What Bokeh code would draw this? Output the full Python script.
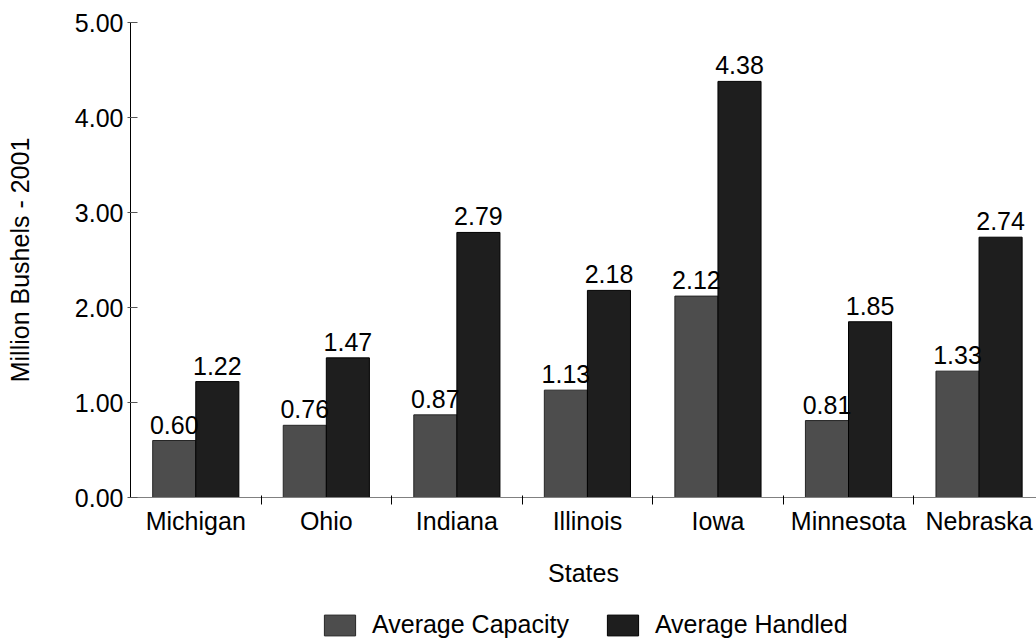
from bokeh.plotting import figure
from bokeh.layouts import column
from bokeh.models import (Range1d, FixedTicker, NumeralTickFormatter, ColumnDataSource,
                          Legend, LegendItem)
from bokeh.core.properties import value
from bokeh.embed import file_html
from bokeh.resources import INLINE

states = ["Michigan", "Ohio", "Indiana", "Illinois", "Iowa", "Minnesota", "Nebraska"]
avg_capacity = [0.60, 0.76, 0.87, 1.13, 2.12, 0.81, 1.33]
avg_handled = [1.22, 1.47, 2.79, 2.18, 4.38, 1.85, 2.74]
series_names = ["Average Capacity", "Average Handled"]
y_ticks = [0, 1, 2, 3, 4, 5]

FONT = "Liberation Sans"
FS = "25px"
COL_C = "#4d4d4d"
COL_H = "#1e1e1e"

centers = [i + 0.5 for i in range(len(states))]
off = 0.165
bw = 0.33

src_c = ColumnDataSource(dict(x=[c - off for c in centers], top=avg_capacity,
                              lab=[f"{v:.2f}" for v in avg_capacity]))
src_h = ColumnDataSource(dict(x=[c + off for c in centers], top=avg_handled,
                              lab=[f"{v:.2f}" for v in avg_handled]))

p = figure(frame_width=906, frame_height=475, output_backend="svg", toolbar_location=None,
           x_range=Range1d(0, 6.94), y_range=Range1d(0, 5),
           min_border_left=130, min_border_right=0, min_border_top=22, min_border_bottom=103)
p.outline_line_color = None
p.xgrid.visible = False
p.ygrid.visible = False
p.background_fill_color = "white"
p.border_fill_color = "white"

p.vbar(x="x", top="top", width=bw, bottom=0, source=src_c,
       fill_color=COL_C, line_color="#262626", line_width=1)
p.vbar(x="x", top="top", width=bw, bottom=0, source=src_h,
       fill_color=COL_H, line_color="#000000", line_width=1)

for s in (src_c, src_h):
    p.text(x="x", y="top", text="lab", source=s, text_align="center",
           text_baseline="alphabetic", y_offset=-16, text_font_size=value(FS),
           text_font=value(FONT), text_color="black")

# x axis
xa = p.xaxis[0]
xa.ticker = FixedTicker(ticks=centers, minor_ticks=list(range(1, len(states))))
xa.major_label_overrides = {c: s for c, s in zip(centers, states)}
xa.major_tick_out = 0
xa.major_tick_in = 0
xa.minor_tick_out = 7
xa.minor_tick_in = 2
xa.minor_tick_line_color = "black"
xa.axis_line_color = "#808080"
xa.major_label_text_font = FONT
xa.major_label_text_font_size = FS
xa.major_label_text_color = "black"
xa.major_label_standoff = 2
xa.axis_label = "States"
xa.axis_label_text_font = FONT
xa.axis_label_text_font_size = FS
xa.axis_label_text_font_style = "normal"
xa.axis_label_text_color = "black"
xa.axis_label_standoff = 21

# y axis
ya = p.yaxis[0]
ya.ticker = FixedTicker(ticks=y_ticks)
ya.formatter = NumeralTickFormatter(format="0.00")
ya.major_tick_in = 7
ya.major_tick_out = 3
ya.minor_tick_in = 0
ya.minor_tick_out = 0
ya.axis_line_color = "black"
ya.major_tick_line_color = "#555555"
ya.major_label_text_font = FONT
ya.major_label_text_font_size = FS
ya.major_label_text_color = "black"
ya.major_label_standoff = 4
ya.axis_label = "Million Bushels - 2001"
ya.axis_label_text_font = FONT
ya.axis_label_text_font_size = FS
ya.axis_label_text_font_style = "normal"
ya.axis_label_text_color = "black"
ya.axis_label_standoff = 38

# legend strip below the chart
p2 = figure(frame_width=1036, frame_height=42, output_backend="svg", toolbar_location=None,
            x_range=Range1d(0, 1), y_range=Range1d(0, 1), min_border=0)
p2.axis.visible = False
p2.grid.visible = False
p2.outline_line_color = None
p2.border_fill_color = "white"
nan = float("nan")
l1 = p2.vbar(x=[nan], top=[nan], width=0.1, fill_color=COL_C, line_color="#262626")
l2 = p2.vbar(x=[nan], top=[nan], width=0.1, fill_color=COL_H, line_color="#000000")
legend = Legend(items=[LegendItem(label=series_names[0], renderers=[l1]),
                       LegendItem(label=series_names[1], renderers=[l2])],
                orientation="horizontal", location=(320, 3),
                glyph_width=39, glyph_height=26, label_standoff=13, spacing=34,
                label_text_font=FONT, label_text_font_size=FS, label_text_color="black",
                border_line_color=None, background_fill_alpha=0, margin=0, padding=0)
p2.add_layout(legend, "center")

layout = column(p, p2, spacing=0)
open("out.html", "w").write(file_html(layout, INLINE))
